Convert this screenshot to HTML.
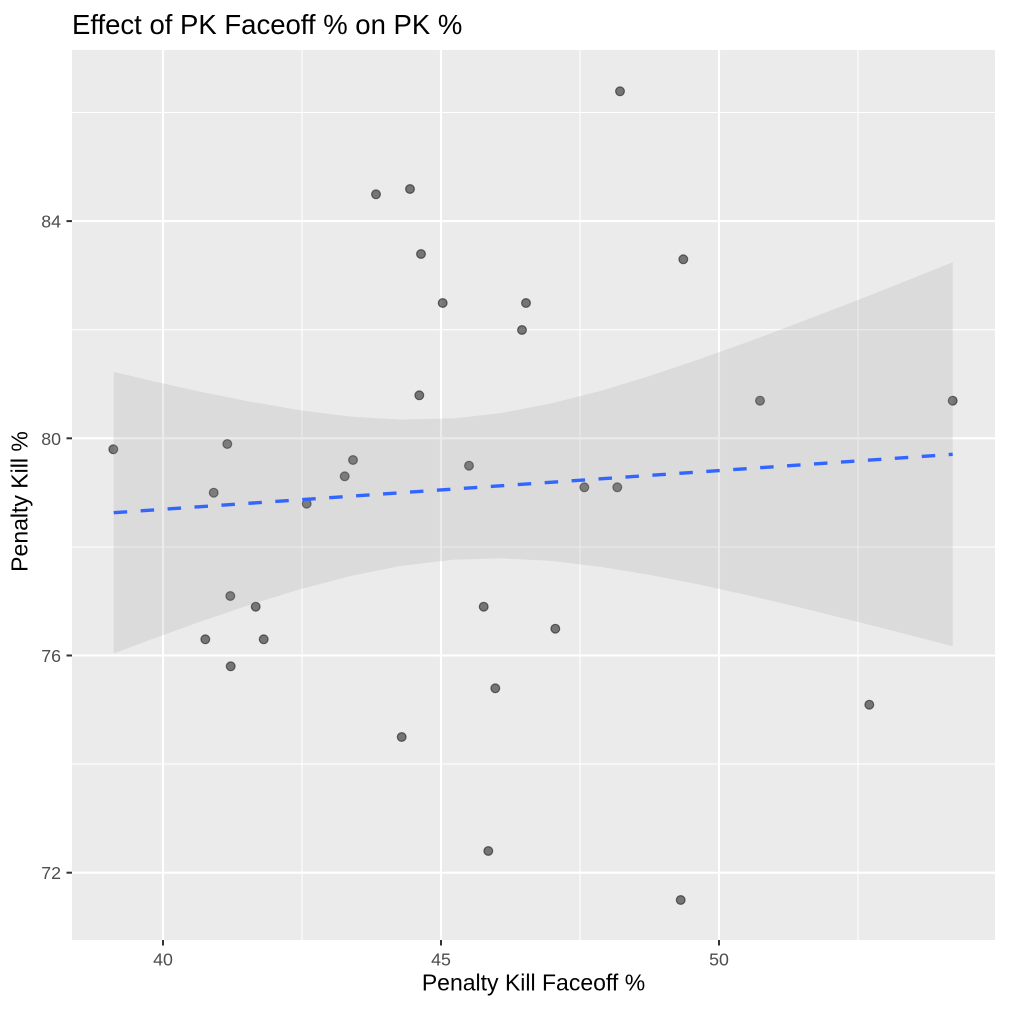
<!DOCTYPE html>
<html>
<head>
<meta charset="utf-8">
<style>
  html, body { margin: 0; padding: 0; background: #ffffff; }
  svg { display: block; }
  text { font-family: "Liberation Sans", Arial, Helvetica, sans-serif; }
</style>
</head>
<body>
<svg width="1023" height="1014" viewBox="0 0 1023 1014" xmlns="http://www.w3.org/2000/svg">
  <rect x="0" y="0" width="1023" height="1014" fill="#ffffff"/>

  <!-- Title -->
  <text x="72" y="34" font-size="27.5" fill="#000000">Effect of PK Faceoff % on PK %</text>

  <!-- Panel -->
  <rect x="72" y="50" width="923" height="890" fill="#EBEBEB"/>

  <!-- minor gridlines -->
  <g stroke="#ffffff" stroke-width="1.1">
    <line x1="72" x2="995" y1="112.5" y2="112.5"/>
    <line x1="72" x2="995" y1="329.7" y2="329.7"/>
    <line x1="72" x2="995" y1="547" y2="547"/>
    <line x1="72" x2="995" y1="764.1" y2="764.1"/>
    <line y1="50" y2="940" x1="302" x2="302"/>
    <line y1="50" y2="940" x1="580" x2="580"/>
    <line y1="50" y2="940" x1="858" x2="858"/>
  </g>
  <!-- major gridlines -->
  <g stroke="#ffffff" stroke-width="2.1">
    <line x1="72" x2="995" y1="221.1" y2="221.1"/>
    <line x1="72" x2="995" y1="438.3" y2="438.3"/>
    <line x1="72" x2="995" y1="655.5" y2="655.5"/>
    <line x1="72" x2="995" y1="872.7" y2="872.7"/>
    <line y1="50" y2="940" x1="163" x2="163"/>
    <line y1="50" y2="940" x1="441" x2="441"/>
    <line y1="50" y2="940" x1="719" x2="719"/>
  </g>

  <!-- points -->
  <g fill="#000000" fill-opacity="0.5" stroke="#000000" stroke-opacity="0.5" stroke-width="1.2">
    <circle cx="620" cy="91.3" r="4.4"/>
    <circle cx="376" cy="194.3" r="4.4"/>
    <circle cx="410" cy="189" r="4.4"/>
    <circle cx="421" cy="254" r="4.4"/>
    <circle cx="683.3" cy="259.3" r="4.4"/>
    <circle cx="442.7" cy="303" r="4.4"/>
    <circle cx="526" cy="303" r="4.4"/>
    <circle cx="522" cy="330" r="4.4"/>
    <circle cx="419.3" cy="395.3" r="4.4"/>
    <circle cx="760" cy="400.7" r="4.4"/>
    <circle cx="952.7" cy="400.7" r="4.4"/>
    <circle cx="113.3" cy="449.3" r="4.4"/>
    <circle cx="227.3" cy="444" r="4.4"/>
    <circle cx="353" cy="460" r="4.4"/>
    <circle cx="469" cy="465.7" r="4.4"/>
    <circle cx="344.7" cy="476.3" r="4.4"/>
    <circle cx="213.7" cy="492.7" r="4.4"/>
    <circle cx="584.3" cy="487.3" r="4.4"/>
    <circle cx="617.3" cy="487.3" r="4.4"/>
    <circle cx="306.7" cy="503.7" r="4.4"/>
    <circle cx="230.3" cy="596" r="4.4"/>
    <circle cx="255.7" cy="606.7" r="4.4"/>
    <circle cx="483.7" cy="606.7" r="4.4"/>
    <circle cx="205.3" cy="639.3" r="4.4"/>
    <circle cx="263.7" cy="639.3" r="4.4"/>
    <circle cx="555.3" cy="628.7" r="4.4"/>
    <circle cx="230.7" cy="666.3" r="4.4"/>
    <circle cx="495.3" cy="688.3" r="4.4"/>
    <circle cx="869.3" cy="704.7" r="4.4"/>
    <circle cx="401.7" cy="737" r="4.4"/>
    <circle cx="488.3" cy="851" r="4.4"/>
    <circle cx="680.7" cy="900" r="4.4"/>
  </g>

  <!-- confidence band -->
  <polygon fill="#999999" fill-opacity="0.2" points="
    113.7,371.9 150,380.5 200,391.6 250,401.6 300,410.2 350,416.5 400,419.6 454,418.4 500,413.3 550,403.8 600,391.1 650,375.9 700,359.0 750,341.1 800,322.3 850,303.1 900,283.4 952.7,262.3
    952.7,646.3 900,632.6 850,619.9 800,607.5 750,595.7 700,584.8 650,574.9 600,566.7 550,560.8 500,558.3 454,559.6 400,566.0 350,576.1 300,589.2 250,604.8 200,621.8 150,639.9 113.7,653.5"/>

  <!-- regression line -->
  <line x1="113.7" y1="512.7" x2="952.7" y2="454.3" stroke="#3366FF" stroke-width="3.4" stroke-dasharray="13.5 13.5"/>

  <!-- y ticks -->
  <g stroke="#333333" stroke-width="2">
    <line x1="66.5" x2="72" y1="221.1" y2="221.1"/>
    <line x1="66.5" x2="72" y1="438.3" y2="438.3"/>
    <line x1="66.5" x2="72" y1="655.5" y2="655.5"/>
    <line x1="66.5" x2="72" y1="872.7" y2="872.7"/>
    <line y1="940" y2="945.5" x1="163" x2="163"/>
    <line y1="940" y2="945.5" x1="441" x2="441"/>
    <line y1="940" y2="945.5" x1="719" x2="719"/>
  </g>

  <!-- y tick labels -->
  <g font-size="17.8" fill="#4D4D4D" text-anchor="end">
    <text x="61" y="227.6">84</text>
    <text x="61" y="444.8">80</text>
    <text x="61" y="662">76</text>
    <text x="61" y="879.2">72</text>
  </g>

  <!-- x tick labels -->
  <g font-size="17.8" fill="#4D4D4D" text-anchor="middle">
    <text x="163" y="965.5">40</text>
    <text x="441" y="965.5">45</text>
    <text x="719" y="965.5">50</text>
  </g>

  <!-- axis titles -->
  <text x="533.5" y="990.5" font-size="23" fill="#000000" text-anchor="middle">Penalty Kill Faceoff %</text>
  <text transform="translate(27.5,501.5) rotate(-90)" font-size="23" fill="#000000" text-anchor="middle">Penalty Kill %</text>
</svg>
</body>
</html>
